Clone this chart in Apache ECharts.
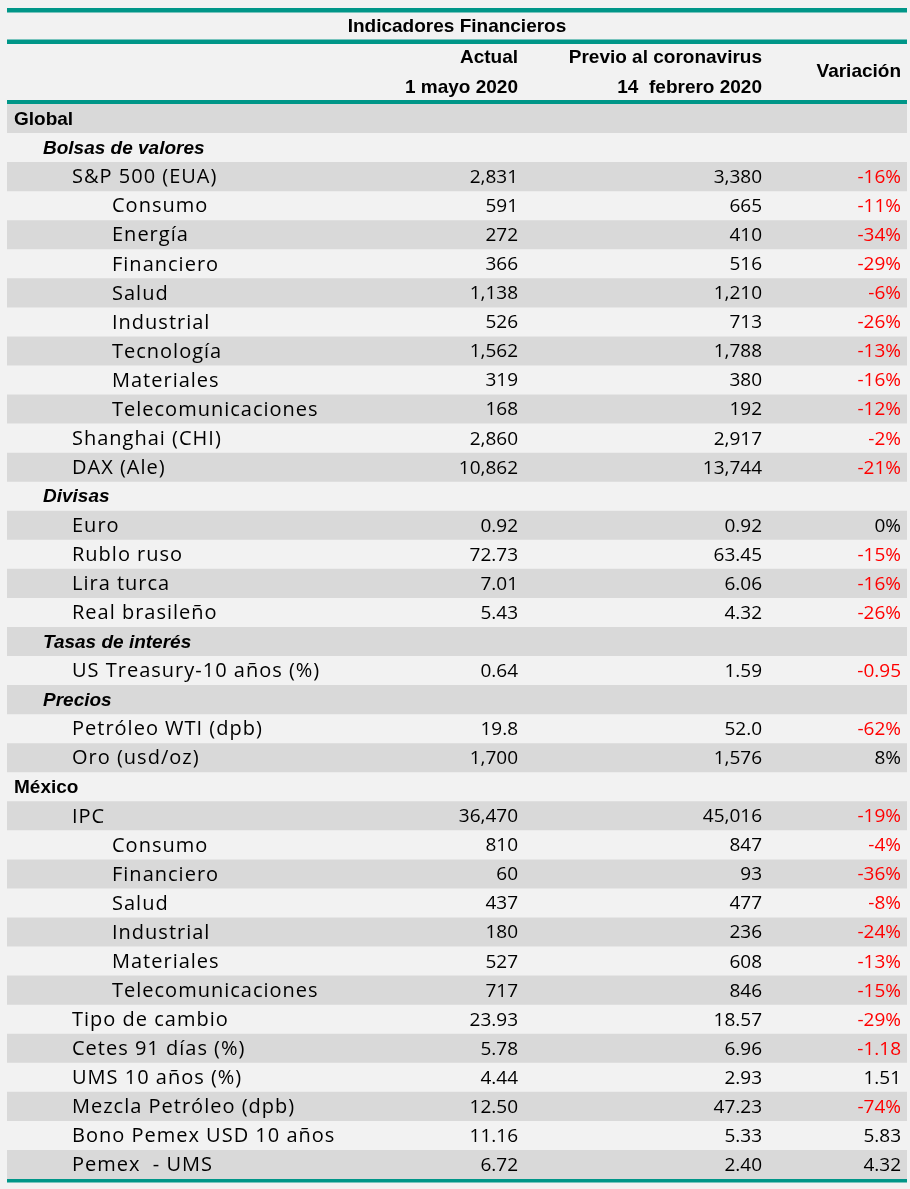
<!DOCTYPE html>
<html>
<head>
<meta charset="utf-8">
<script src="https://cdn.jsdelivr.net/npm/echarts/dist/echarts.min.js"></script>
<title>Indicadores Financieros</title>
<style>
html, body { margin: 0; padding: 0; background: #f2f2f2; }
#main { width: 910px; height: 1189px; }
</style>
</head>
<body>
<div id="main"></div>
<script type="text/javascript">
// filas de la tabla
var labels = ['Global', 'Bolsas de valores', 'S&P 500 (EUA)', 'Consumo', 'Energía', 'Financiero', 'Salud',
	'Industrial', 'Tecnología', 'Materiales', 'Telecomunicaciones', 'Shanghai (CHI)', 'DAX (Ale)',
	'Divisas', 'Euro', 'Rublo ruso', 'Lira turca', 'Real brasileño',
	'Tasas de interés', 'US Treasury-10 años (%)',
	'Precios', 'Petróleo WTI (dpb)', 'Oro (usd/oz)',
	'México', 'IPC', 'Consumo', 'Financiero', 'Salud', 'Industrial', 'Materiales', 'Telecomunicaciones',
	'Tipo de cambio', 'Cetes 91 días (%)', 'UMS 10 años (%)', 'Mezcla Petróleo (dpb)',
	'Bono Pemex USD 10 años', 'Pemex  - UMS'];
// 0 = sección, 1 = subsección, 2 = indicador, 3 = sector
var levels = [0, 1, 2, 3, 3, 3, 3, 3, 3, 3, 3, 2, 2,
	1, 2, 2, 2, 2,
	1, 2,
	1, 2, 2,
	0, 2, 3, 3, 3, 3, 3, 3,
	2, 2, 2, 2, 2, 2];
var actual = ['', '', '2,831', '591', '272', '366', '1,138', '526', '1,562', '319', '168', '2,860', '10,862',
	'', '0.92', '72.73', '7.01', '5.43',
	'', '0.64',
	'', '19.8', '1,700',
	'', '36,470', '810', '60', '437', '180', '527', '717',
	'23.93', '5.78', '4.44', '12.50', '11.16', '6.72'];
var previo = ['', '', '3,380', '665', '410', '516', '1,210', '713', '1,788', '380', '192', '2,917', '13,744',
	'', '0.92', '63.45', '6.06', '4.32',
	'', '1.59',
	'', '52.0', '1,576',
	'', '45,016', '847', '93', '477', '236', '608', '846',
	'18.57', '6.96', '2.93', '47.23', '5.33', '2.40'];
var variacion = ['', '', '-16%', '-11%', '-34%', '-29%', '-6%', '-26%', '-13%', '-16%', '-12%', '-2%', '-21%',
	'', '0%', '-15%', '-16%', '-26%',
	'', '-0.95',
	'', '-62%', '8%',
	'', '-19%', '-4%', '-36%', '-8%', '-24%', '-13%', '-15%',
	'-29%', '-1.18', '1.51', '-74%', '5.83', '4.32'];

var teal = '#009688';
var bodyFont = '"Open Sans"';
var headFont = '"Liberation Sans Narrow", "Liberation Sans"';
var indent = [14, 43, 72, 112];
var colActual = 518, colPrevio = 762, colVar = 901;
var labelSize = 20, numSize = 19;
var tracking = 1; // espacio extra entre letras de las etiquetas

var measureCtx = document.createElement('canvas').getContext('2d');
measureCtx.font = labelSize + 'px ' + bodyFont;

var rows = labels.map(function (l, i) { return [0, i]; });

// etiqueta con espaciado entre letras, una letra por elemento
function spacedText(str, x0, y) {
	var out = [];
	var x = x0;
	for (var k = 0; k < str.length; k++) {
		var ch = str.charAt(k);
		out.push({
			type: 'text',
			style: { text: ch, x: x, y: y, align: 'left', verticalAlign: 'middle', fill: '#000', fontSize: labelSize, fontFamily: bodyFont }
		});
		x += measureCtx.measureText(ch).width + tracking;
	}
	return out;
}

function renderRow(params, api) {
	var i = params.dataIndex;
	var c = api.coord([0, i]);
	var h = api.size([0, 1])[1];
	var y = c[1] + 1;
	var lv = levels[i];
	var kids = [];
	if (i % 2 === 0) {
		kids.push({ type: 'rect', shape: { x: 7, y: c[1] - h / 2, width: 900, height: h }, style: { fill: '#d9d9d9' } });
	}
	if (lv < 2) {
		kids.push({
			type: 'text',
			style: {
				text: labels[i], x: indent[lv], y: y, align: 'left', verticalAlign: 'middle',
				fill: '#000', fontSize: 19, fontFamily: headFont, fontWeight: 'bold',
				fontStyle: lv === 1 ? 'italic' : 'normal'
			}
		});
	} else {
		kids = kids.concat(spacedText(labels[i], indent[lv], y));
	}
	var cells = [[actual[i], colActual], [previo[i], colPrevio], [variacion[i], colVar]];
	cells.forEach(function (cell, k) {
		if (!cell[0]) return;
		var neg = k === 2 && cell[0].charAt(0) === '-';
		kids.push({
			type: 'text',
			style: {
				text: cell[0], x: api.coord([cell[1], i])[0], y: y, align: 'right', verticalAlign: 'middle',
				fill: neg ? '#ff0000' : '#000', fontSize: numSize, fontFamily: bodyFont
			}
		});
	});
	return { type: 'group', children: kids };
}

var myChart = echarts.init(document.getElementById('main'));
myChart.setOption({
	backgroundColor: '#f2f2f2',
	animation: false,
	grid: { left: 0, right: 0, top: 104, bottom: 10 },
	xAxis: { type: 'value', min: 0, max: 910, show: false },
	yAxis: { type: 'category', data: labels, inverse: true, show: false },
	graphic: [
		{ type: 'rect', shape: { x: 7, y: 8, width: 900, height: 4.5 }, style: { fill: teal } },
		{ type: 'rect', shape: { x: 7, y: 39.5, width: 900, height: 4.5 }, style: { fill: teal } },
		{ type: 'rect', shape: { x: 7, y: 100, width: 900, height: 4 }, style: { fill: teal } },
		{ type: 'rect', shape: { x: 7, y: 1179, width: 900, height: 3.5 }, style: { fill: teal } },
		{ type: 'text', x: 457, y: 27, style: { text: 'Indicadores Financieros', align: 'center', verticalAlign: 'middle', fontSize: 19, fontWeight: 'bold', fontFamily: headFont, fill: '#000' } },
		{ type: 'text', x: colActual, y: 58, style: { text: 'Actual', align: 'right', verticalAlign: 'middle', fontSize: 19, fontWeight: 'bold', fontFamily: headFont, fill: '#000' } },
		{ type: 'text', x: colActual, y: 88, style: { text: '1 mayo 2020', align: 'right', verticalAlign: 'middle', fontSize: 19, fontWeight: 'bold', fontFamily: headFont, fill: '#000' } },
		{ type: 'text', x: colPrevio, y: 58, style: { text: 'Previo al coronavirus', align: 'right', verticalAlign: 'middle', fontSize: 19, fontWeight: 'bold', fontFamily: headFont, fill: '#000' } },
		{ type: 'text', x: colPrevio, y: 88, style: { text: '14  febrero 2020', align: 'right', verticalAlign: 'middle', fontSize: 19, fontWeight: 'bold', fontFamily: headFont, fill: '#000' } },
		{ type: 'text', x: colVar, y: 72, style: { text: 'Variación', align: 'right', verticalAlign: 'middle', fontSize: 19, fontWeight: 'bold', fontFamily: headFont, fill: '#000' } }
	],
	series: [{
		type: 'custom',
		renderItem: renderRow,
		data: rows,
		silent: true
	}]
});
</script>
</body>
</html>
